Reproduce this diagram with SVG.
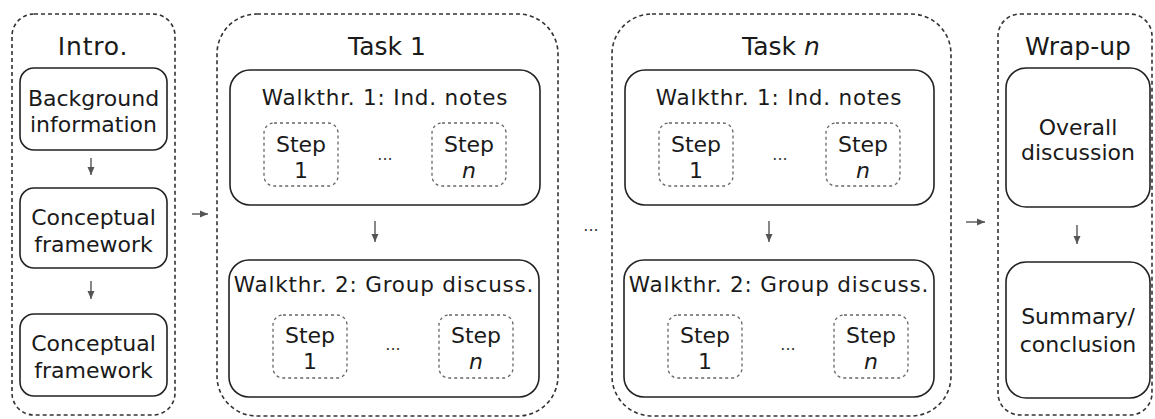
<svg xmlns="http://www.w3.org/2000/svg" width="1155" height="419" viewBox="0 0 1155 419">
<defs>
<style>
.outer{fill:none;stroke:#333;stroke-width:1.6;stroke-dasharray:4 3}
.inner{fill:none;stroke:#222;stroke-width:1.6}
.step{fill:none;stroke:#666;stroke-width:1.3;stroke-dasharray:3 3}
.title{font-family:"DejaVu Sans",Verdana,sans-serif;font-size:25px;fill:#1a1a1a;text-anchor:middle}
.txt{font-family:"DejaVu Sans",Verdana,sans-serif;font-size:22px;fill:#1a1a1a;text-anchor:middle}
.wt{font-family:"DejaVu Sans",Verdana,sans-serif;font-size:21.5px;fill:#1a1a1a;text-anchor:middle;letter-spacing:0.8px}
.dots{font-family:"DejaVu Sans",Verdana,sans-serif;font-size:16px;fill:#333;text-anchor:middle}
.arr{stroke:#555;stroke-width:1.4;fill:none;marker-end:url(#ah)}
</style>
<marker id="ah" markerUnits="userSpaceOnUse" markerWidth="9" markerHeight="9" refX="8" refY="4.5" orient="auto">
<path d="M0,1 L8,4.5 L0,8 Z" fill="#555"/>
</marker>
</defs>
<rect width="1155" height="419" fill="#fff"/>

<g id="intro">
<rect class="outer" x="12" y="14" width="163" height="401" rx="22"/>
<text class="title" x="93" y="55" letter-spacing="0.8">Intro.</text>
</g>
<g id="background">
<rect class="inner" x="20" y="68" width="147" height="82" rx="14"/>
<text class="txt" x="93.5" y="106">Background</text>
<text class="txt" x="93.5" y="132">information</text>
</g>
<g id="conceptual1">
<rect class="inner" x="20" y="188" width="147" height="80" rx="14"/>
<text class="txt" x="93.5" y="225">Conceptual</text>
<text class="txt" x="93.5" y="252">framework</text>
</g>
<g id="conceptual2">
<rect class="inner" x="20" y="314" width="147" height="82" rx="14"/>
<text class="txt" x="93.5" y="351">Conceptual</text>
<text class="txt" x="93.5" y="378">framework</text>
</g>

<g id="task1">
<rect class="outer" x="217" y="14" width="341" height="402" rx="40"/>
<text class="title" x="387" y="55">Task 1</text>
</g>
<g id="task1-w1">
<rect class="inner" x="230" y="70" width="310" height="135" rx="20"/>
<text class="wt" x="385" y="105">Walkthr. 1: Ind. notes</text>
</g>
<g id="task1-w1-s1">
<rect class="step" x="264" y="123" width="74" height="63" rx="10"/>
<text class="txt" x="301" y="152">Step</text>
<text class="txt" x="301" y="178">1</text>
</g>
<text class="dots" x="385" y="160">...</text>
<g id="task1-w1-sn">
<rect class="step" x="432" y="123" width="74" height="63" rx="10"/>
<text class="txt" x="469" y="152">Step</text>
<text class="txt" x="469" y="178" font-style="italic">n</text>
</g>
<g id="task1-w2">
<rect class="inner" x="229" y="260" width="310" height="137" rx="20"/>
<text class="wt" x="384" y="292">Walkthr. 2: Group discuss.</text>
</g>
<g id="task1-w2-s1">
<rect class="step" x="273" y="315" width="74" height="63" rx="10"/>
<text class="txt" x="310" y="343">Step</text>
<text class="txt" x="310" y="369">1</text>
</g>
<text class="dots" x="393" y="350">...</text>
<g id="task1-w2-sn">
<rect class="step" x="439" y="315" width="74" height="63" rx="10"/>
<text class="txt" x="476" y="343">Step</text>
<text class="txt" x="476" y="369" font-style="italic">n</text>
</g>

<text class="dots" x="591" y="231">...</text>

<g id="taskn">
<rect class="outer" x="612" y="14" width="339" height="402" rx="40"/>
<text class="title" x="781" y="55">Task <tspan font-style="italic">n</tspan></text>
</g>
<g id="taskn-w1">
<rect class="inner" x="625" y="70" width="309" height="135" rx="20"/>
<text class="wt" x="779" y="105">Walkthr. 1: Ind. notes</text>
</g>
<g id="taskn-w1-s1">
<rect class="step" x="659" y="123" width="74" height="63" rx="10"/>
<text class="txt" x="696" y="152">Step</text>
<text class="txt" x="696" y="178">1</text>
</g>
<text class="dots" x="780" y="160">...</text>
<g id="taskn-w1-sn">
<rect class="step" x="826" y="123" width="74" height="63" rx="10"/>
<text class="txt" x="863" y="152">Step</text>
<text class="txt" x="863" y="178" font-style="italic">n</text>
</g>
<g id="taskn-w2">
<rect class="inner" x="624" y="260" width="310" height="137" rx="20"/>
<text class="wt" x="779" y="292">Walkthr. 2: Group discuss.</text>
</g>
<g id="taskn-w2-s1">
<rect class="step" x="668" y="315" width="74" height="63" rx="10"/>
<text class="txt" x="705" y="343">Step</text>
<text class="txt" x="705" y="369">1</text>
</g>
<text class="dots" x="788" y="350">...</text>
<g id="taskn-w2-sn">
<rect class="step" x="834" y="315" width="74" height="63" rx="10"/>
<text class="txt" x="871" y="343">Step</text>
<text class="txt" x="871" y="369" font-style="italic">n</text>
</g>

<g id="wrapup">
<rect class="outer" x="998" y="14" width="154" height="401" rx="22"/>
<text class="title" x="1078" y="55">Wrap-up</text>
</g>
<g id="overall">
<rect class="inner" x="1006" y="68" width="144" height="139" rx="20"/>
<text class="txt" x="1078" y="135">Overall</text>
<text class="txt" x="1078" y="160">discussion</text>
</g>
<g id="summary">
<rect class="inner" x="1006" y="262" width="144" height="136" rx="20"/>
<text class="txt" x="1078" y="324">Summary/</text>
<text class="txt" x="1078" y="352">conclusion</text>
</g>

<g id="connectors">
<line class="arr" x1="91" y1="158" x2="91" y2="175"/>
<line class="arr" x1="91" y1="281" x2="91" y2="299"/>
<line class="arr" x1="192" y1="214" x2="208" y2="214"/>
<line class="arr" x1="375" y1="221" x2="375" y2="242"/>
<line class="arr" x1="769" y1="221" x2="769" y2="242"/>
<line class="arr" x1="966" y1="222" x2="985" y2="222"/>
<line class="arr" x1="1077" y1="225" x2="1077" y2="244"/>
</g>
</svg>
